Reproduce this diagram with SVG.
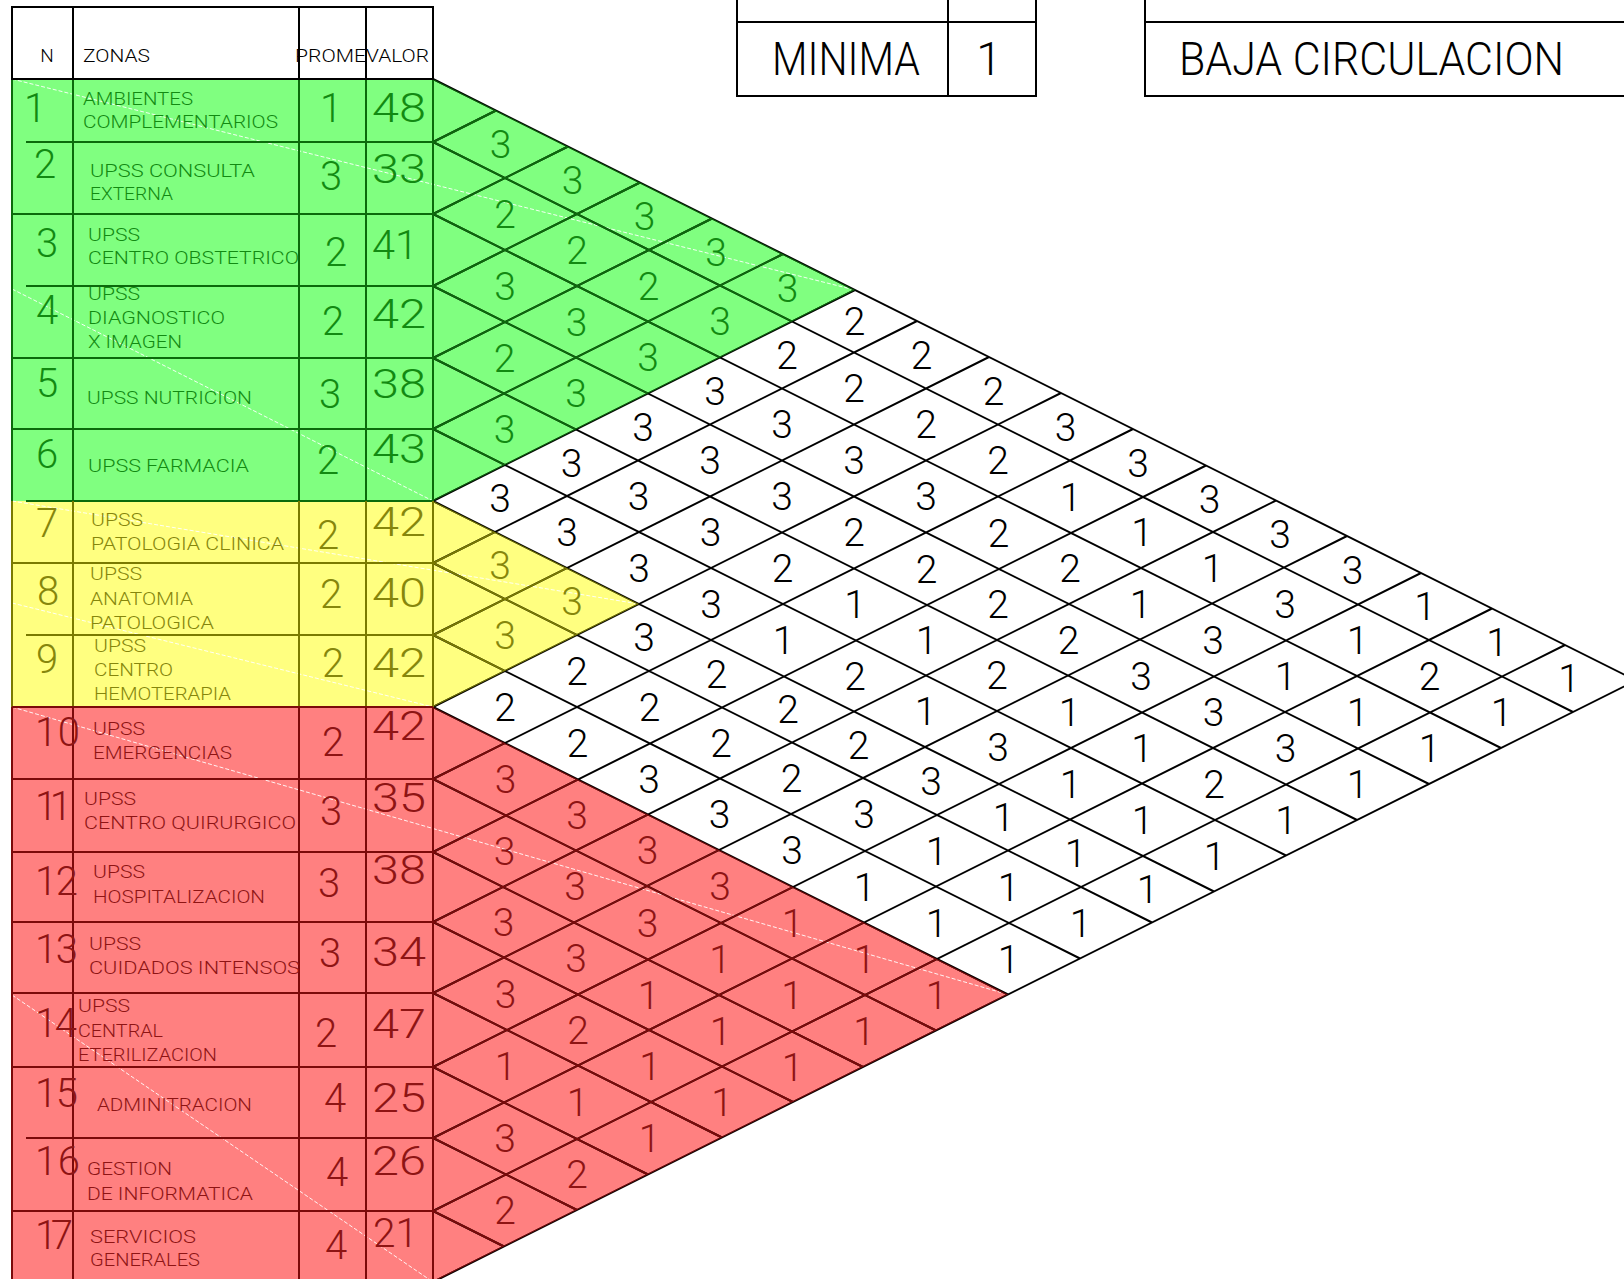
<svg xmlns="http://www.w3.org/2000/svg" xmlns:xlink="http://www.w3.org/1999/xlink" width="1624" height="1279" viewBox="0 0 1624 1279">
<style>
text{font-family:Roboto,"Liberation Sans",sans-serif;font-weight:300}
.lb{font-size:19px}
.nb{font-size:40px}
.mv{font-size:39px;text-anchor:middle}
.mid{text-anchor:middle}
.tg{fill:#128a12}.ty{fill:#86860c}.tr{fill:#8e1414}.tk{fill:#000}
.lk{stroke:#000;stroke-width:2;fill:none}
.lg{stroke:#0c6a0c;stroke-width:2;fill:none}
.ly{stroke:#7a7a00;stroke-width:2;fill:none}
.lr{stroke:#7c0a0a;stroke-width:2;fill:none}
.seam{stroke:#fff;stroke-width:1;stroke-dasharray:4 2;fill:none;opacity:.9}
</style>
<defs>
<path id="grid" d="M433,79L1636,680.5M433,142L1573,712M433,214L1501,748M433,286L1429,784M433,358L1357,820M433,429L1286,855.5M433,501L1214,891.5M433,563L1152,922.5M433,635L1080,958.5M433,707L1008,994.5M433,779L936,1030.5M433,852L863,1067M433,922L793,1102M433,993L722,1137.5M433,1067L648,1174.5M433,1138L577,1210M433,1211L504,1246.5M433,142L496,110.5M433,214L568,146.5M433,286L640,182.5M433,358L712,218.5M433,429L783,254M433,501L855,290M433,563L917,321M433,635L989,357M433,707L1061,393M433,779L1133,429M433,852L1206,465.5M433,922L1276,500.5M433,993L1347,536M433,1067L1421,573M433,1138L1492,608.5M433,1211L1565,645M433,1282L1636,680.5"/>
<clipPath id="cg"><polygon points="433,79 855,290 433,501"/></clipPath>
<clipPath id="cy"><polygon points="433,501 639,604 433,707"/></clipPath>
<clipPath id="cr"><polygon points="433,707 1008,994.5 433,1282"/></clipPath>
</defs>
<rect width="1624" height="1279" fill="#fff"/>

<!-- fills -->
<g id="fills">
<rect x="12" y="79" width="421" height="422" fill="#80ff80"/>
<rect x="12" y="501" width="421" height="206" fill="#ffff80"/>
<rect x="12" y="707" width="421" height="575" fill="#ff8080"/>
<polygon points="433,79 855,290 433,501" fill="#80ff80"/>
<polygon points="433,501 639,604 433,707" fill="#ffff80"/>
<polygon points="433,707 1008,994.5 433,1282" fill="#ff8080"/>
</g>
<g id="seams">
<path class="seam" d="M12,79L855,290M12,289L433,501M12,501L639,604M12,603L433,707M12,707L1008,994.5M12,995L433,1282"/>
</g>

<!-- connectors: matrix grid -->
<g id="connectors">
<use xlink:href="#grid" class="lk"/>
<use xlink:href="#grid" class="lg" clip-path="url(#cg)"/>
<use xlink:href="#grid" class="ly" clip-path="url(#cy)"/>
<use xlink:href="#grid" class="lr" clip-path="url(#cr)"/>
<path class="lg" d="M12,79V501M73,79V501M299,79V501M366,79V501M433,79V501M26,142H433M12,214H433M26,286H433M12,358H433M12,429H433M26,501H433"/>
<path class="ly" d="M12,501V707M73,501V707M299,501V707M366,501V707M433,501V707M12,563H433M26,635H433"/>
<path class="lr" d="M12,707V1282M73,707V1282M299,707V1282M366,707V1282M433,707V1282M12,707H433M12,779H433M12,852H433M12,922H433M12,993H433M12,1067H433M26,1138H433M12,1211H433"/>
</g>

<!-- header -->
<g id="header">
<path class="lk" d="M12,7H433V79H12ZM73,7V79M299,7V79M366,7V79"/>
<text class="lb tk mid" x="47" y="62">N</text>
<text class="lb tk" x="83" y="62" textLength="67" lengthAdjust="spacingAndGlyphs">ZONAS</text>
<text class="lb tk" x="295" y="62" textLength="71" lengthAdjust="spacingAndGlyphs">PROME</text>
<text class="lb tk" x="366" y="62" textLength="63" lengthAdjust="spacingAndGlyphs">VALOR</text>
</g>

<!-- rows -->
<g id="row-1" class="tg">
<text class="nb mid" x="35" y="122">1</text>
<text class="lb" x="83" y="105" textLength="110" lengthAdjust="spacingAndGlyphs">AMBIENTES</text>
<text class="lb" x="83" y="128" textLength="195" lengthAdjust="spacingAndGlyphs">COMPLEMENTARIOS</text>
<text class="nb mid" x="331" y="122">1</text>
<text class="nb" x="372" y="122" textLength="54" lengthAdjust="spacingAndGlyphs">48</text>
</g>
<g id="row-2" class="tg">
<text class="nb mid" x="45" y="178">2</text>
<text class="lb" x="90" y="177" textLength="165" lengthAdjust="spacingAndGlyphs">UPSS CONSULTA</text>
<text class="lb" x="90" y="200" textLength="83" lengthAdjust="spacingAndGlyphs">EXTERNA</text>
<text class="nb mid" x="331" y="190">3</text>
<text class="nb" x="372" y="183" textLength="54" lengthAdjust="spacingAndGlyphs">33</text>
</g>
<g id="row-3" class="tg">
<text class="nb mid" x="47" y="257">3</text>
<text class="lb" x="88" y="241" textLength="52" lengthAdjust="spacingAndGlyphs">UPSS</text>
<text class="lb" x="88" y="264" textLength="211" lengthAdjust="spacingAndGlyphs">CENTRO OBSTETRICO</text>
<text class="nb mid" x="336" y="266">2</text>
<text class="nb" x="372" y="259" textLength="46" lengthAdjust="spacingAndGlyphs">41</text>
</g>
<g id="row-4" class="tg">
<text class="nb mid" x="47" y="324">4</text>
<text class="lb" x="88" y="300" textLength="52" lengthAdjust="spacingAndGlyphs">UPSS</text>
<text class="lb" x="88" y="324" textLength="137" lengthAdjust="spacingAndGlyphs">DIAGNOSTICO</text>
<text class="lb" x="88" y="348" textLength="94" lengthAdjust="spacingAndGlyphs">X IMAGEN</text>
<text class="nb mid" x="333" y="335">2</text>
<text class="nb" x="372" y="328" textLength="54" lengthAdjust="spacingAndGlyphs">42</text>
</g>
<g id="row-5" class="tg">
<text class="nb mid" x="47" y="397">5</text>
<text class="lb" x="87" y="404" textLength="165" lengthAdjust="spacingAndGlyphs">UPSS NUTRICION</text>
<text class="nb mid" x="330" y="408">3</text>
<text class="nb" x="372" y="398" textLength="54" lengthAdjust="spacingAndGlyphs">38</text>
</g>
<g id="row-6" class="tg">
<text class="nb mid" x="47" y="468">6</text>
<text class="lb" x="88" y="472" textLength="161" lengthAdjust="spacingAndGlyphs">UPSS FARMACIA</text>
<text class="nb mid" x="328" y="474">2</text>
<text class="nb" x="372" y="463" textLength="54" lengthAdjust="spacingAndGlyphs">43</text>
</g>
<g id="row-7" class="ty">
<text class="nb mid" x="47" y="537">7</text>
<text class="lb" x="91" y="526" textLength="52" lengthAdjust="spacingAndGlyphs">UPSS</text>
<text class="lb" x="91" y="550" textLength="193" lengthAdjust="spacingAndGlyphs">PATOLOGIA CLINICA</text>
<text class="nb mid" x="328" y="549">2</text>
<text class="nb" x="372" y="536" textLength="54" lengthAdjust="spacingAndGlyphs">42</text>
</g>
<g id="row-8" class="ty">
<text class="nb mid" x="48" y="605">8</text>
<text class="lb" x="90" y="580" textLength="52" lengthAdjust="spacingAndGlyphs">UPSS</text>
<text class="lb" x="90" y="605" textLength="103" lengthAdjust="spacingAndGlyphs">ANATOMIA</text>
<text class="lb" x="90" y="629" textLength="124" lengthAdjust="spacingAndGlyphs">PATOLOGICA</text>
<text class="nb mid" x="331" y="608">2</text>
<text class="nb" x="372" y="607" textLength="54" lengthAdjust="spacingAndGlyphs">40</text>
</g>
<g id="row-9" class="ty">
<text class="nb mid" x="47" y="673">9</text>
<text class="lb" x="94" y="652" textLength="52" lengthAdjust="spacingAndGlyphs">UPSS</text>
<text class="lb" x="94" y="676" textLength="79" lengthAdjust="spacingAndGlyphs">CENTRO</text>
<text class="lb" x="94" y="700" textLength="137" lengthAdjust="spacingAndGlyphs">HEMOTERAPIA</text>
<text class="nb mid" x="333" y="677">2</text>
<text class="nb" x="372" y="677" textLength="54" lengthAdjust="spacingAndGlyphs">42</text>
</g>
<g id="row-10" class="tr">
<text class="nb" x="35" y="746" textLength="45" lengthAdjust="spacing">10</text>
<text class="lb" x="93" y="735" textLength="52" lengthAdjust="spacingAndGlyphs">UPSS</text>
<text class="lb" x="93" y="759" textLength="139" lengthAdjust="spacingAndGlyphs">EMERGENCIAS</text>
<text class="nb mid" x="333" y="756">2</text>
<text class="nb" x="372" y="740" textLength="54" lengthAdjust="spacingAndGlyphs">42</text>
</g>
<g id="row-11" class="tr">
<text class="nb" x="35" y="820" textLength="37" lengthAdjust="spacing">11</text>
<text class="lb" x="84" y="805" textLength="52" lengthAdjust="spacingAndGlyphs">UPSS</text>
<text class="lb" x="84" y="829" textLength="212" lengthAdjust="spacingAndGlyphs">CENTRO QUIRURGICO</text>
<text class="nb mid" x="331" y="825">3</text>
<text class="nb" x="372" y="812" textLength="54" lengthAdjust="spacingAndGlyphs">35</text>
</g>
<g id="row-12" class="tr">
<text class="nb" x="35" y="895" textLength="43" lengthAdjust="spacing">12</text>
<text class="lb" x="93" y="878" textLength="52" lengthAdjust="spacingAndGlyphs">UPSS</text>
<text class="lb" x="93" y="903" textLength="172" lengthAdjust="spacingAndGlyphs">HOSPITALIZACION</text>
<text class="nb mid" x="329" y="897">3</text>
<text class="nb" x="372" y="884" textLength="54" lengthAdjust="spacingAndGlyphs">38</text>
</g>
<g id="row-13" class="tr">
<text class="nb" x="35" y="963" textLength="43" lengthAdjust="spacing">13</text>
<text class="lb" x="89" y="950" textLength="52" lengthAdjust="spacingAndGlyphs">UPSS</text>
<text class="lb" x="89" y="974" textLength="211" lengthAdjust="spacingAndGlyphs">CUIDADOS INTENSOS</text>
<text class="nb mid" x="330" y="967">3</text>
<text class="nb" x="372" y="966" textLength="54" lengthAdjust="spacingAndGlyphs">34</text>
</g>
<g id="row-14" class="tr">
<text class="nb" x="35" y="1037" textLength="42" lengthAdjust="spacing">14</text>
<text class="lb" x="78" y="1012" textLength="52" lengthAdjust="spacingAndGlyphs">UPSS</text>
<text class="lb" x="78" y="1037" textLength="85" lengthAdjust="spacingAndGlyphs">CENTRAL</text>
<text class="lb" x="78" y="1061" textLength="139" lengthAdjust="spacingAndGlyphs">ETERILIZACION</text>
<text class="nb mid" x="326" y="1047">2</text>
<text class="nb" x="372" y="1038" textLength="54" lengthAdjust="spacingAndGlyphs">47</text>
</g>
<g id="row-15" class="tr">
<text class="nb" x="35" y="1107" textLength="43" lengthAdjust="spacing">15</text>
<text class="lb" x="97" y="1111" textLength="155" lengthAdjust="spacingAndGlyphs">ADMINITRACION</text>
<text class="nb mid" x="335" y="1112">4</text>
<text class="nb" x="372" y="1112" textLength="54" lengthAdjust="spacingAndGlyphs">25</text>
</g>
<g id="row-16" class="tr">
<text class="nb" x="35" y="1175" textLength="45" lengthAdjust="spacing">16</text>
<text class="lb" x="87" y="1175" textLength="85" lengthAdjust="spacingAndGlyphs">GESTION</text>
<text class="lb" x="87" y="1200" textLength="166" lengthAdjust="spacingAndGlyphs">DE INFORMATICA</text>
<text class="nb mid" x="337" y="1186">4</text>
<text class="nb" x="372" y="1175" textLength="54" lengthAdjust="spacingAndGlyphs">26</text>
</g>
<g id="row-17" class="tr">
<text class="nb" x="35" y="1249" textLength="38" lengthAdjust="spacing">17</text>
<text class="lb" x="90" y="1243" textLength="106" lengthAdjust="spacingAndGlyphs">SERVICIOS</text>
<text class="lb" x="90" y="1266" textLength="110" lengthAdjust="spacingAndGlyphs">GENERALES</text>
<text class="nb mid" x="336" y="1259">4</text>
<text class="nb" x="373" y="1247" textLength="45" lengthAdjust="spacingAndGlyphs">21</text>
</g>

<!-- matrix values -->
<g id="matrix-green" class="tg">
<text class="mv" x="500.5" y="158">3</text>
<text class="mv" x="505" y="228">2</text>
<text class="mv" x="505" y="300">3</text>
<text class="mv" x="504.5" y="372">2</text>
<text class="mv" x="504.5" y="443">3</text>
<text class="mv" x="572.5" y="194">3</text>
<text class="mv" x="577" y="264">2</text>
<text class="mv" x="576.5" y="336">3</text>
<text class="mv" x="576" y="407">3</text>
<text class="mv" x="644.5" y="230">3</text>
<text class="mv" x="648.5" y="300">2</text>
<text class="mv" x="648" y="371">3</text>
<text class="mv" x="716" y="266">3</text>
<text class="mv" x="720" y="335">3</text>
<text class="mv" x="787.5" y="302">3</text>
</g>
<g id="matrix-yellow" class="ty">
<text class="mv" x="500" y="579">3</text>
<text class="mv" x="505" y="649">3</text>
<text class="mv" x="572" y="615">3</text>
</g>
<g id="matrix-red" class="tr">
<text class="mv" x="505.5" y="793">3</text>
<text class="mv" x="504.5" y="865">3</text>
<text class="mv" x="503.5" y="936">3</text>
<text class="mv" x="505.5" y="1008">3</text>
<text class="mv" x="505.5" y="1080">1</text>
<text class="mv" x="505" y="1152">3</text>
<text class="mv" x="505" y="1224">2</text>
<text class="mv" x="577" y="829">3</text>
<text class="mv" x="575" y="900">3</text>
<text class="mv" x="576" y="972">3</text>
<text class="mv" x="578" y="1044">2</text>
<text class="mv" x="577.5" y="1116">1</text>
<text class="mv" x="577" y="1188">2</text>
<text class="mv" x="647.5" y="864">3</text>
<text class="mv" x="647.5" y="937">3</text>
<text class="mv" x="648.5" y="1009">1</text>
<text class="mv" x="650" y="1080">1</text>
<text class="mv" x="649.5" y="1152">1</text>
<text class="mv" x="720" y="900">3</text>
<text class="mv" x="720" y="973">1</text>
<text class="mv" x="720.5" y="1045">1</text>
<text class="mv" x="722" y="1116">1</text>
<text class="mv" x="792.5" y="937">1</text>
<text class="mv" x="792" y="1009">1</text>
<text class="mv" x="792.5" y="1081">1</text>
<text class="mv" x="864.5" y="973">1</text>
<text class="mv" x="864" y="1045">1</text>
<text class="mv" x="936.5" y="1009">1</text>
</g>
<g id="matrix-white" class="tk">
<text class="mv" x="500" y="512">3</text>
<text class="mv" x="505" y="721">2</text>
<text class="mv" x="571.5" y="477">3</text>
<text class="mv" x="567" y="546">3</text>
<text class="mv" x="577" y="685">2</text>
<text class="mv" x="577.5" y="757">2</text>
<text class="mv" x="643" y="441">3</text>
<text class="mv" x="638.5" y="510">3</text>
<text class="mv" x="639" y="582">3</text>
<text class="mv" x="644" y="651">3</text>
<text class="mv" x="649.5" y="721">2</text>
<text class="mv" x="649" y="793">3</text>
<text class="mv" x="715" y="405">3</text>
<text class="mv" x="710" y="474">3</text>
<text class="mv" x="710.5" y="546">3</text>
<text class="mv" x="711" y="618">3</text>
<text class="mv" x="716.5" y="688">2</text>
<text class="mv" x="721" y="757">2</text>
<text class="mv" x="719.5" y="828">3</text>
<text class="mv" x="787" y="369">2</text>
<text class="mv" x="782" y="438">3</text>
<text class="mv" x="782" y="510">3</text>
<text class="mv" x="782.5" y="582">2</text>
<text class="mv" x="783.5" y="654">1</text>
<text class="mv" x="788" y="723">2</text>
<text class="mv" x="791.5" y="792">2</text>
<text class="mv" x="792" y="864">3</text>
<text class="mv" x="854.5" y="335">2</text>
<text class="mv" x="854" y="402">2</text>
<text class="mv" x="854" y="474">3</text>
<text class="mv" x="854" y="546">2</text>
<text class="mv" x="855" y="618">1</text>
<text class="mv" x="855" y="690">2</text>
<text class="mv" x="858.5" y="759">2</text>
<text class="mv" x="864" y="828">3</text>
<text class="mv" x="864.5" y="901">1</text>
<text class="mv" x="921.5" y="369">2</text>
<text class="mv" x="926" y="438">2</text>
<text class="mv" x="926" y="510">3</text>
<text class="mv" x="926.5" y="583">2</text>
<text class="mv" x="926.5" y="654">1</text>
<text class="mv" x="925.5" y="725">1</text>
<text class="mv" x="931" y="795">3</text>
<text class="mv" x="936.5" y="865">1</text>
<text class="mv" x="936.5" y="937">1</text>
<text class="mv" x="993.5" y="405">2</text>
<text class="mv" x="998" y="474">2</text>
<text class="mv" x="998.5" y="547">2</text>
<text class="mv" x="998" y="618">2</text>
<text class="mv" x="997" y="689">2</text>
<text class="mv" x="998" y="761">3</text>
<text class="mv" x="1003.5" y="831">1</text>
<text class="mv" x="1008.5" y="901">1</text>
<text class="mv" x="1008.5" y="973">1</text>
<text class="mv" x="1065.5" y="441">3</text>
<text class="mv" x="1070.5" y="511">1</text>
<text class="mv" x="1070" y="582">2</text>
<text class="mv" x="1068.5" y="654">2</text>
<text class="mv" x="1069.5" y="726">1</text>
<text class="mv" x="1070.5" y="798">1</text>
<text class="mv" x="1075.5" y="867">1</text>
<text class="mv" x="1080.5" y="937">1</text>
<text class="mv" x="1138" y="477">3</text>
<text class="mv" x="1142" y="546">1</text>
<text class="mv" x="1140.5" y="618">1</text>
<text class="mv" x="1141" y="690">3</text>
<text class="mv" x="1142" y="762">1</text>
<text class="mv" x="1142.5" y="834">1</text>
<text class="mv" x="1147.5" y="903">1</text>
<text class="mv" x="1209.5" y="513">3</text>
<text class="mv" x="1212.5" y="582">1</text>
<text class="mv" x="1213" y="654">3</text>
<text class="mv" x="1213.5" y="726">3</text>
<text class="mv" x="1214" y="798">2</text>
<text class="mv" x="1214.5" y="870">1</text>
<text class="mv" x="1280" y="548">3</text>
<text class="mv" x="1285" y="618">3</text>
<text class="mv" x="1285.5" y="690">1</text>
<text class="mv" x="1285.5" y="762">3</text>
<text class="mv" x="1286" y="834">1</text>
<text class="mv" x="1352.5" y="584">3</text>
<text class="mv" x="1357.5" y="654">1</text>
<text class="mv" x="1357.5" y="726">1</text>
<text class="mv" x="1357.5" y="798">1</text>
<text class="mv" x="1425" y="620">1</text>
<text class="mv" x="1429.5" y="690">2</text>
<text class="mv" x="1429.5" y="762">1</text>
<text class="mv" x="1497" y="656">1</text>
<text class="mv" x="1501.5" y="726">1</text>
<text class="mv" x="1569" y="692">1</text>
</g>

<!-- legend boxes -->
<g id="legend-minima">
<path class="lk" d="M737,-2V96H1036V-2M737,22H1036M948,-2V96"/>
<text class="tk" x="772" y="75" style="font-size:46px" textLength="148" lengthAdjust="spacingAndGlyphs">MINIMA</text>
<text class="tk mid" x="989" y="75" style="font-size:46px">1</text>
</g>
<g id="legend-baja">
<path class="lk" d="M1145,-2V96H1626M1145,22H1626"/>
<text class="tk" x="1179" y="75" style="font-size:46px" textLength="385" lengthAdjust="spacingAndGlyphs">BAJA CIRCULACION</text>
</g>
</svg>
